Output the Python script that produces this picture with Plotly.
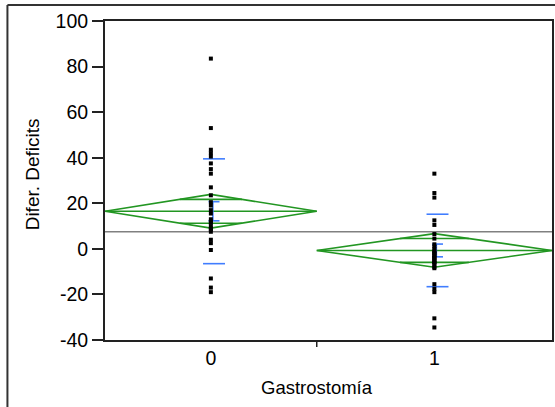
import math
import plotly.graph_objects as go

# Oneway analysis of Difer. Deficits by Gastrostomía
groups = ["0", "1"]
values_g0 = [83.5, 53, 43.5, 42, 40.5, 37.5, 35, 33, 27, 23.5, 20.5, 19, 17,
             15.5, 13, 12, 11.5, 10, 9, 8.5, 7.5, 4, 2.5, -0.5, -13, -17, -19]
values_g1 = [33, 24.5, 22.5, 12.5, 10.5, 6.5, 4.5, 2, 1, 0, -1, -1.5, -2, -2,
             -3, -3.5, -4, -4, -5, -5.5, -6, -6, -7, -8, -8.5, -15.5, -17.5,
             -19, -30.5, -34.5]
group_means = [16.5, -0.7]
ci_half = [7.4, 7.4]
std_devs = [23.0, 15.9]
std_errs = [4.2, 2.8]
grand_mean = 7.5
y_ticks = [-40, -20, 0, 20, 40, 60, 80, 100]
y_tick_labels = ["-40", "-20", "0", "20", "40", "60", "80", "100"]

GREEN = "rgb(34,150,34)"
BLUE = "rgb(64,125,255)"
FONT = "Arial, Liberation Sans, sans-serif"

all_values = [values_g0, values_g1]
sizes = [len(v) for v in all_values]
total = sum(sizes)
starts = [0, sizes[0]]
centers = [s + n / 2 for s, n in zip(starts, sizes)]

fig = go.Figure()

# grand mean reference line
fig.add_trace(go.Scatter(x=[0, total], y=[grand_mean, grand_mean], mode="lines",
                         line=dict(color="rgb(128,128,128)", width=1.5),
                         hoverinfo="skip", showlegend=False))

k = 1 / math.sqrt(2)
for i in range(2):
    x0, n, c = starts[i], sizes[i], centers[i]
    x1 = x0 + n
    m, h = group_means[i], ci_half[i]
    # means diamond
    fig.add_trace(go.Scatter(
        x=[x0, c, x1, c, x0], y=[m, m + h, m, m - h, m], mode="lines",
        line=dict(color=GREEN, width=1.6), hoverinfo="skip", showlegend=False))
    # mean line and overlap marks
    ow = (1 - k) * n / 2
    fig.add_trace(go.Scatter(
        x=[x0, x1, None, c - ow, c + ow, None, c - ow, c + ow],
        y=[m, m, None, m + h * k, m + h * k, None, m - h * k, m - h * k],
        mode="lines", line=dict(color=GREEN, width=1.6),
        hoverinfo="skip", showlegend=False))
    # std dev lines and std error bar
    bc = c + 0.4
    sd, se = std_devs[i], std_errs[i]
    fig.add_trace(go.Scatter(
        x=[bc - 1.4, bc + 1.4, None, bc - 1.4, bc + 1.4, None,
           bc - 0.7, bc + 0.7, None, bc - 0.7, bc + 0.7, None, bc - 0.15, bc - 0.15],
        y=[m + sd, m + sd, None, m - sd, m - sd, None,
           m + se, m + se, None, m - se, m - se, None, m + se, m - se],
        mode="lines", line=dict(color=BLUE, width=1.6),
        hoverinfo="skip", showlegend=False))
    # observations
    fig.add_trace(go.Scatter(
        x=[c] * n, y=all_values[i], mode="markers",
        marker=dict(symbol="square", size=4, color="black", line=dict(width=0)),
        showlegend=False))

W, H = 555, 407
L, R, T, B = 105, 1, 21, 67
pw, ph = W - L - R, H - T - B

fig.update_layout(
    width=W, height=H,
    margin=dict(l=L, r=R, t=T, b=B),
    paper_bgcolor="white", plot_bgcolor="white",
    font=dict(family=FONT, color="black"),
    xaxis=dict(range=[0, total], tickvals=centers, ticktext=groups, ticks="",
               showgrid=False, zeroline=False, showline=True, mirror=True,
               linecolor="#222", linewidth=2, tickfont=dict(size=19.5)),
    yaxis=dict(range=[-40, 100], tickvals=y_ticks, ticktext=y_tick_labels,
               ticks="outside", ticklen=11, tickcolor="#222", tickwidth=1.5,
               showgrid=False, zeroline=False, showline=True, mirror=True,
               linecolor="#222", linewidth=2, tickfont=dict(size=19.5)),
)

# axis titles
fig.add_annotation(text="Gastrostomía", xref="x", yref="paper",
                   x=sizes[0], y=-(388 - (T + ph)) / ph, yanchor="middle",
                   showarrow=False, font=dict(size=18.5))
fig.add_annotation(text="Difer. Deficits", xref="paper", yref="paper",
                   x=(33 - L) / pw, y=1 - (174 - T) / ph, textangle=-90,
                   xanchor="center", yanchor="middle",
                   showarrow=False, font=dict(size=19))

# boundary tick between groups
fig.add_shape(type="line", xref="x", yref="paper", x0=sizes[0], x1=sizes[0],
              y0=0, y1=-7 / ph, line=dict(color="#222", width=1.5))
# outer frame
fl, ft = (7 - L) / pw, 1 + (T - 5) / ph
fig.add_shape(type="line", xref="paper", yref="paper", x0=fl, x1=fl,
              y0=ft, y1=-(B + 5) / ph, line=dict(color="#333", width=2))
fig.add_shape(type="line", xref="paper", yref="paper", x0=fl, x1=1 + 5 / pw,
              y0=ft, y1=ft, line=dict(color="#333", width=2))

fig.write_html("out.html")
